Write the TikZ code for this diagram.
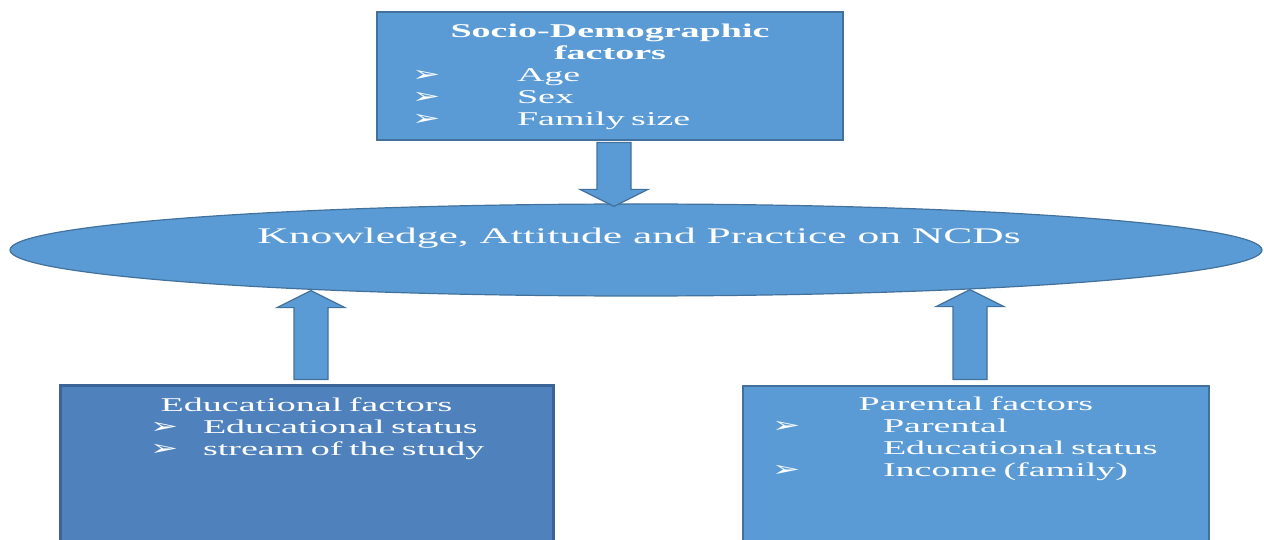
\documentclass[tikz,border=0pt]{standalone}
\usepackage{fontspec}
\setmainfont{Liberation Serif}[FakeStretch=1.95]
\newfontfamily\dingfont{DejaVu Sans}[FakeStretch=1.6]
\usetikzlibrary{shapes.geometric,calc}

\definecolor{boxblue}{HTML}{5B9BD5}
\definecolor{boxline}{HTML}{41719C}
\definecolor{edublue}{HTML}{4F81BD}
\definecolor{eduline}{HTML}{3B6497}

% bullet line: bullet at #1, text at #2 from the left edge of the box
\newcommand{\entry}[3]{\makebox[\hsize][l]{\hspace*{#1}\makebox[\dimexpr#2-#1\relax][l]{\dingfont\fontsize{21}{22}\selectfont ➢}#3}}
% block arrow from #1 to the tip #2 (vertical)
\newcommand{\fatarrow}[2]{%
  \draw[fatarrow] let \p1=(#1), \p2=(#2), \n1={sign(\y2-\y1)} in
    ({\x1-17pt},\y1) -- ({\x1-17pt},{\y2-(\n1)*17pt}) -- ({\x1-34pt},{\y2-(\n1)*17pt}) --
    (\x2,\y2) -- ({\x1+34pt},{\y2-(\n1)*17pt}) -- ({\x1+17pt},{\y2-(\n1)*17pt}) --
    ({\x1+17pt},\y1) -- cycle;}

\begin{document}
\begin{tikzpicture}[x=1pt,y=1pt,
    factorbox/.style={draw=boxline,fill=boxblue,line width=1.2pt,inner sep=0pt},
    kapnode/.style={ellipse,draw=boxline,fill=boxblue,line width=1.2pt,
      minimum width=1252pt,minimum height=92pt,inner sep=0pt},
    boxtext/.style={text=white,inner sep=0pt,anchor=north,align=center,
      font=\fontsize{19.5}{22}\selectfont},
    fatarrow/.style={draw=boxline,fill=boxblue,line width=1.2pt}]
  \useasboundingbox (0,0) rectangle (1264,539);

  \node[factorbox,minimum width=466pt,minimum height=128pt] (socio) at (610,463) {};
  \node[boxtext,text width=466pt] (sociotext) at ($(socio.north)+(0,-12)$)
    {\textbf{Socio-Demographic}\\ \textbf{factors}\\
     \entry{35pt}{140pt}{Age}\\
     \entry{35pt}{140pt}{Sex}\\
     \entry{35pt}{140pt}{Family size}};

  \node[kapnode] (kap) at (636,289) {};
  \node[text=white,inner sep=0pt,font=\fontsize{22.3}{26}\selectfont] (kaptext)
    at ($(kap.center)+(3,12)$) {Knowledge, Attitude and Practice on NCDs};

  \node[factorbox,draw=eduline,fill=edublue,line width=3pt,
    minimum width=493pt,minimum height=157pt] (edu) at (306.5,75.5) {};
  \node[boxtext,text width=493pt] (edutext) at ($(edu.north)+(0,-14)$)
    {Educational factors\\
     \entry{90pt}{143pt}{Educational status}\\
     \entry{90pt}{143pt}{stream of the study}};

  \node[factorbox,minimum width=466pt,minimum height=157pt] (parent) at (976,74.5) {};
  \node[boxtext,text width=466pt] (parenttext) at ($(parent.north)+(0,-11)$)
    {Parental factors\\
     \entry{29pt}{140pt}{Parental}\\
     \makebox[\hsize][l]{\hspace*{140pt}Educational status}\\
     \entry{29pt}{140pt}{Income (family)}};

  \coordinate (topstart) at ($(socio.south)+(4,-2)$);
  \coordinate (toptip) at ($(topstart |- kap.north)+(0,-3)$);
  \coordinate (edustart) at ($(edu.north)+(4.5,4)$);
  \coordinate (edutip) at ($(edustart |- kap.south)+(0,6)$);
  \coordinate (parentstart) at ($(parent.north)+(-6,6)$);
  \coordinate (parenttip) at ($(parentstart |- kap.south)+(0,7)$);

  \fatarrow{topstart}{toptip}
  \fatarrow{edustart}{edutip}
  \fatarrow{parentstart}{parenttip}
\end{tikzpicture}
\end{document}
